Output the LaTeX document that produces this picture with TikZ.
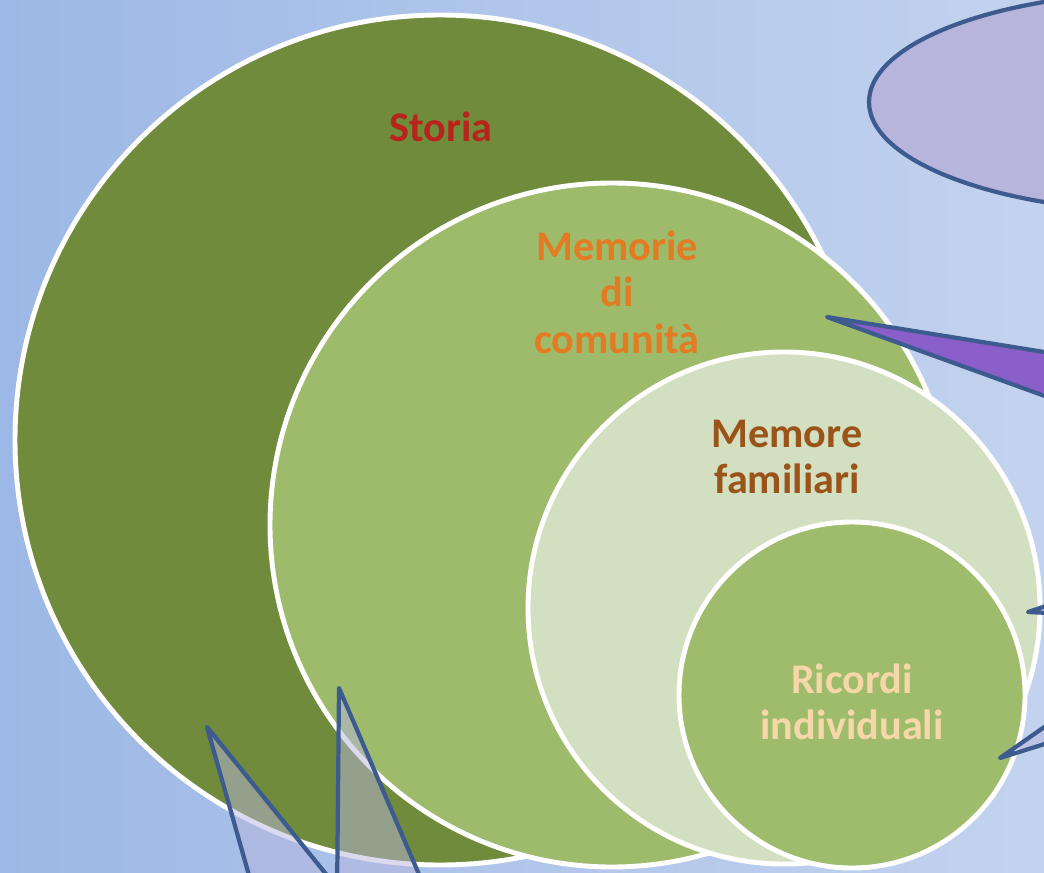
\documentclass[tikz,border=0pt]{standalone}
\usepackage{fontspec}
\setmainfont{Carlito}
\definecolor{bgleft}{HTML}{9DB8E6}
\definecolor{bgright}{HTML}{C3D3EF}
\definecolor{storiagreen}{HTML}{718B3D}
\definecolor{comunitagreen}{HTML}{9EBB6C}
\definecolor{familiaripale}{HTML}{D3DFC1}
\definecolor{ricordigreen}{HTML}{9EBC6B}
\definecolor{storiared}{HTML}{B8231A}
\definecolor{comunitaorange}{HTML}{E27B22}
\definecolor{familiaribrown}{HTML}{9A5419}
\definecolor{ricordipeach}{HTML}{F6D8A8}
\definecolor{calloutblue}{HTML}{3D5B8E}
\definecolor{calloutlav}{HTML}{B7B5DC}
\definecolor{calloutpurple}{HTML}{8B5FC9}
\begin{document}
\begin{tikzpicture}[
    x=0.025cm, y=-0.025cm,
    ring/.style={draw=white, line width=3.5pt},
    lbl/.style={font=\fontsize{30}{33}\selectfont\bfseries, align=center, inner sep=0pt},
    callout/.style={draw=calloutblue, line width=3pt, line join=round},
    ghost/.style={callout, fill=calloutlav, fill opacity=0.5}
]
\pgfmathsetmacro{\W}{1044}
\pgfmathsetmacro{\H}{873}

\useasboundingbox (0,0) rectangle (\W,\H);
\clip (0,0) rectangle (\W,\H);

%% background
\shade[left color=bgleft, right color=bgright] (0,0) rectangle (\W,\H);

%% callout top right
\draw[callout, fill=calloutlav] (1169,102) ellipse [x radius=300, y radius=110];

%% nested circles
\coordinate (cstoria)   at (440,440);
\coordinate (ccomunita) at (612,525);
\coordinate (cfamiliari) at (784,608);
\coordinate (cricordi)  at (852,695);
\filldraw[ring, fill=storiagreen]   (cstoria)    circle [radius=425];
\filldraw[ring, fill=comunitagreen] (ccomunita)  circle [radius=342];
\filldraw[ring, fill=familiaripale] (cfamiliari) circle [radius=256];
\filldraw[ring, fill=ricordigreen]  (cricordi)   circle [radius=173];

%% labels
\node[lbl, text=storiared, anchor=base] (storia) at (441,142) {Storia};
\node[lbl, text=comunitaorange] (comunita) at (617,292) {Memorie\\di\\comunità};
\node[lbl, text=familiaribrown] (familiari) at (787,457) {Memore\\familiari};
\node[lbl, text=ricordipeach] (ricordi) at (852,702) {Ricordi\\individuali};

%% callout pointers
\coordinate (tipcomunita) at (827,317);
\coordinate (tipfamiliari) at (1028,612);
\coordinate (tipricordi) at (1000,758);
\coordinate (tipstoria) at (207,727);
\coordinate (tipedge) at (339,688);
\draw[callout, fill=calloutpurple] (1100,361) -- (tipcomunita) -- (1100,416);
\draw[ghost] (1070,598) -- (tipfamiliari) -- (1070,614);
\draw[ghost] (1070,709) -- (tipricordi) -- (1070,736);
\draw[ghost] (256,900) -- (tipstoria) -- (347,900);
\draw[ghost] (337,900) -- (tipedge) -- (430,900);
\end{tikzpicture}
\end{document}
